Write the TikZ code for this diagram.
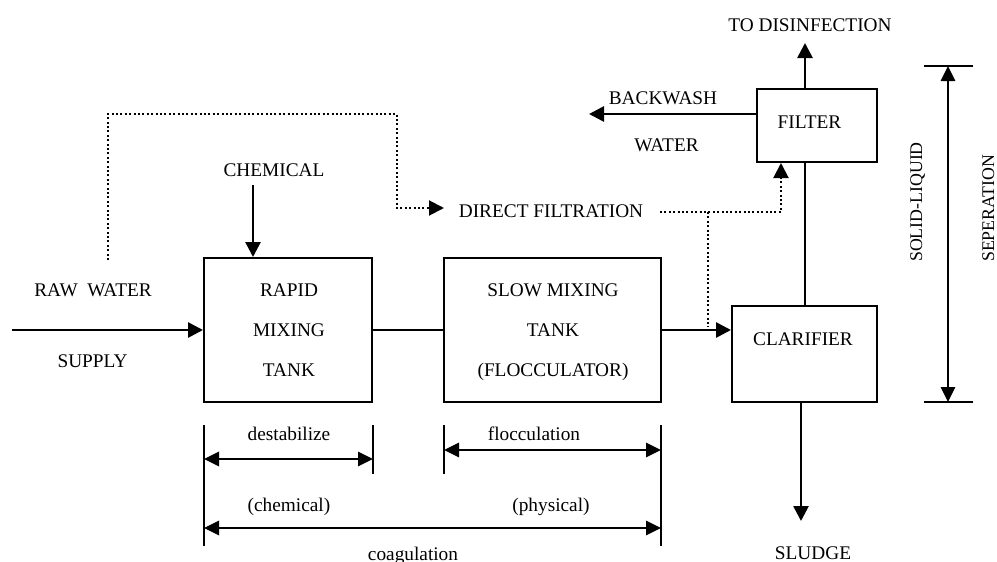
\documentclass[tikz,border=0pt]{standalone}
\usepackage{fontspec}
\setmainfont{Liberation Serif}
\usetikzlibrary{arrows.meta}
\begin{document}
\begin{tikzpicture}[x=1pt,y=-1pt,
  every node/.style={font=\fontsize{19.3}{23}\selectfont, inner sep=0pt},
  box/.style={draw, line width=2pt, inner sep=0pt},
  lbl/.style={anchor=base},
  rot/.style={rotate=90, anchor=base west, font=\fontsize{17.8}{21}\selectfont},
  flow/.style={line width=2.7pt, -{Triangle[length=15pt,width=15pt]}},
  plain/.style={line width=1.8pt},
  dots/.style={line width=2pt, dash pattern=on 2pt off 2.4pt},
  dotarrow/.style={dots, -{Triangle[length=15pt,width=15pt]}},
  dim/.style={line width=2.7pt, {Triangle[length=15pt,width=14pt]}-{Triangle[length=15pt,width=14pt]}},
  tick/.style={line width=1.8pt},
]
\useasboundingbox (0,0) rectangle (997,562);

% boxes
\node[box, minimum width=168pt, minimum height=144pt] (rapid) at (288,330) {};
\node[box, minimum width=217pt, minimum height=144pt] (slow) at (552.5,330) {};
\node[box, minimum width=145pt, minimum height=96pt] (clar) at (804.5,354) {};
\node[box, minimum width=120pt, minimum height=73pt] (filter) at (817,125.5) {};

% box texts
\node[lbl] (rapid1) at (289,296) {RAPID};
\node[lbl] (rapid2) at (289,336.7) {MIXING};
\node[lbl] (rapid3) at (289,376.7) {TANK};
\node[lbl] (slow1) at (553,296.7) {SLOW MIXING};
\node[lbl] (slow2) at (553,336.7) {TANK};
\node[lbl] (slow3) at (553,376.7) {(FLOCCULATOR)};
\node[lbl] (clart) at (803,345) {CLARIFIER};
\node[lbl] (filtert) at (809.5,128) {FILTER};

% other labels
\node[lbl] (raw) at (93,296) {RAW\ \ WATER};
\node[lbl] (supply) at (92.5,367.5) {SUPPLY};
\node[lbl] (chem) at (274,176) {CHEMICAL};
\node[lbl] (direct) at (551,217) {DIRECT FILTRATION};
\node[lbl] (disinf) at (810,31.5) {TO DISINFECTION};
\node[lbl] (backwash) at (663,104) {BACKWASH};
\node[lbl] (water) at (666.5,151.5) {WATER};
\node[lbl] (sludge) at (813,559) {SLUDGE};
\node[rot] (solid) at (922,262) {SOLID-LIQUID};
\node[rot] (sep) at (994,262) {SEPERATION};
\node[lbl] (destab) at (289,440) {destabilize};
\node[lbl] (floc) at (534,440) {flocculation};
\node[lbl] (chemical) at (289,511) {(chemical)};
\node[lbl] (physical) at (551,511) {(physical)};
\node[lbl] (coag) at (413,560) {coagulation};

% main flow
\coordinate (rawin) at (12,330);
\draw[flow] (rawin) -- (rapid.west);
\coordinate (chemtop) at (253,185);
\draw[flow] (chemtop) -- (chemtop |- rapid.north);
\draw[plain] (rapid.east) -- (slow.west);
\draw[flow] (slow.east) -- (slow.east -| clar.west);
\coordinate (fx) at (805,0);
\draw[plain] (fx |- clar.north) -- (fx |- filter.south);
\coordinate (disin) at (805,43);
\draw[flow] (disin |- filter.north) -- (disin);
\coordinate (bw) at (589,114);
\draw[flow] (bw -| filter.west) -- (bw);
\coordinate (sl) at (801,521);
\draw[flow] (sl |- clar.south) -- (sl);

% dotted bypass
\coordinate (d0) at (108,260);
\coordinate (d1) at (397,114);
\coordinate (dtip) at (444,208);
\draw[dotarrow] (d0) |- (d1) |- (dtip);
\coordinate (e0) at (660,212);
\coordinate (fin) at (781,0);
\draw[dotarrow] (e0) -| (fin |- filter.south);
\coordinate (ebr) at (708,212);
\coordinate (ebot) at (708,327);
\draw[dots] (ebr) -- (ebot);

% solid-liquid separation bracket
\coordinate (btl) at (924,66); \coordinate (btr) at (973,66);
\coordinate (bbl) at (924,402); \coordinate (bbr) at (973,402);
\coordinate (bt) at (948,66); \coordinate (bb) at (948,402);
\draw[plain] (btl) -- (btr);
\draw[plain] (bbl) -- (bbr);
\draw[dim] (bt) -- (bb);

% dimension lines
\coordinate (t1a) at (204,425); \coordinate (t1b) at (204,546);
\coordinate (t2a) at (373,425); \coordinate (t2b) at (373,474);
\coordinate (t3a) at (444,425); \coordinate (t3b) at (444,474);
\coordinate (t4a) at (661,425); \coordinate (t4b) at (661,546);
\draw[tick] (t1a) -- (t1b);
\draw[tick] (t2a) -- (t2b);
\draw[tick] (t3a) -- (t3b);
\draw[tick] (t4a) -- (t4b);
\coordinate (a1l) at (204,459); \coordinate (a1r) at (373,459);
\coordinate (a2l) at (444,450); \coordinate (a2r) at (661,450);
\coordinate (a3l) at (204,528); \coordinate (a3r) at (661,528);
\draw[dim] (a1l) -- (a1r);
\draw[dim] (a2l) -- (a2r);
\draw[dim] (a3l) -- (a3r);
\end{tikzpicture}
\end{document}
